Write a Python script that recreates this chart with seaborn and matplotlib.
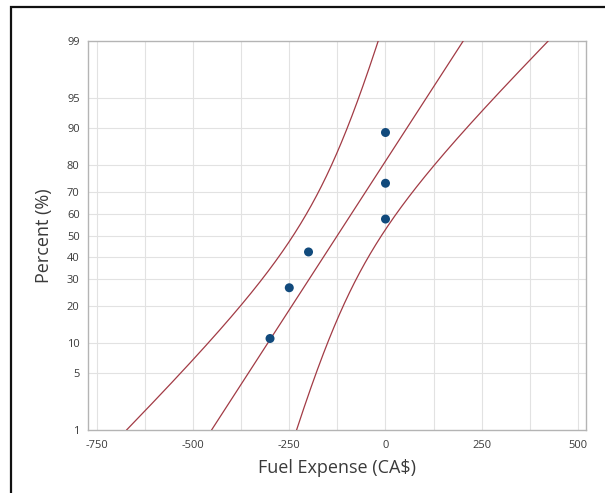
import numpy as np
import pandas as pd
import matplotlib
matplotlib.use("Agg")
import matplotlib.pyplot as plt
import seaborn as sns
from matplotlib.patches import Rectangle
from statistics import NormalDist

# Observed fuel expenses (CA$) and their plotting positions (%)
fuel_expense = [-300, -250, -200, 0, 0, 0]
percent = [10.9, 26.6, 42.2, 57.8, 73.4, 89.1]

y_ticks = [1, 5, 10, 20, 30, 40, 50, 60, 70, 80, 90, 95, 99]
x_ticks = [-750, -500, -250, 0, 250, 500]
x_grid = [-750, -625, -500, -375, -250, -125, 0, 125, 250, 375, 500]

_nd = NormalDist()
_inv = np.vectorize(_nd.inv_cdf, otypes=[float])
_cdf = np.vectorize(_nd.cdf, otypes=[float])


def to_z(p):
    p = np.clip(np.asarray(p, dtype=float) / 100.0, 1e-9, 1 - 1e-9)
    return _inv(p)


def from_z(z):
    return _cdf(np.asarray(z, dtype=float)) * 100.0


# Normal fit and confidence band for the percentiles
x = np.asarray(fuel_expense, dtype=float)
n = len(x)
mu = x.mean()
sd = x.std(ddof=1)
pp = np.linspace(1, 99, 400)
zz = to_z(pp)
fit = mu + zz * sd
half = 2.0 * sd * np.sqrt(1.0 / n + zz ** 2 / (2.0 * n))
lines = pd.DataFrame({
    "pct": np.concatenate([pp, pp, pp]),
    "value": np.concatenate([fit - half, fit, fit + half]),
    "curve": ["lower"] * len(pp) + ["fit"] * len(pp) + ["upper"] * len(pp),
})
points = pd.DataFrame({"value": fuel_expense, "pct": percent})

sns.set_style("white")
plt.rcParams["font.family"] = ["Open Sans", "DejaVu Sans"]

W, H = 605, 493
fig = plt.figure(figsize=(W / 100, H / 100), dpi=100)
fig.patch.set_facecolor("white")
ax = fig.add_axes([88 / W, 1 - 430 / H, (586 - 88) / W, (430 - 41) / H])
ax.set_yscale("function", functions=(to_z, from_z))

line_color = "#a23b45"
sns.lineplot(data=lines, x="value", y="pct", units="curve", estimator=None,
             sort=False, color=line_color, linewidth=0.9, ax=ax, zorder=3)
sns.scatterplot(data=points, x="value", y="pct", color="#114a7c", s=42,
                edgecolor="none", ax=ax, zorder=4)

ax.set_xlim(-773, 521)
ax.set_ylim(1, 99)
ax.set_xticks(x_ticks)
ax.set_xticklabels([str(v) for v in x_ticks])
ax.set_yticks(y_ticks)
ax.set_yticklabels([str(v) for v in y_ticks])
ax.minorticks_off()

for gx in x_grid:
    ax.axvline(gx, color="#e2e2e2", linewidth=0.8, zorder=0)
for gy in y_ticks[1:-1]:
    ax.axhline(gy, color="#e2e2e2", linewidth=0.8, zorder=0)

for s in ax.spines.values():
    s.set_color("#b4b4b4")
    s.set_linewidth(1.0)

ax.tick_params(axis="both", which="major", direction="out", length=3, width=0.8,
               color="#8c8c8c", labelsize=8, labelcolor="#3a3a3a")
ax.tick_params(axis="x", pad=4)
ax.tick_params(axis="y", pad=3)

ax.set_xlabel("Fuel Expense (CA$)", fontsize=13, color="#3a3a3a", labelpad=6)
ax.set_ylabel("Percent (%)", fontsize=13, color="#3a3a3a", labelpad=10)

# Outer frame around the graph window
fig.patches.append(Rectangle((11 / W, -0.02), 1.2, 1 - 7 / H + 0.02,
                             transform=fig.transFigure, fill=False,
                             edgecolor="#111111", linewidth=1.6, zorder=10))

fig.savefig("out.png", dpi=100, facecolor="white")
